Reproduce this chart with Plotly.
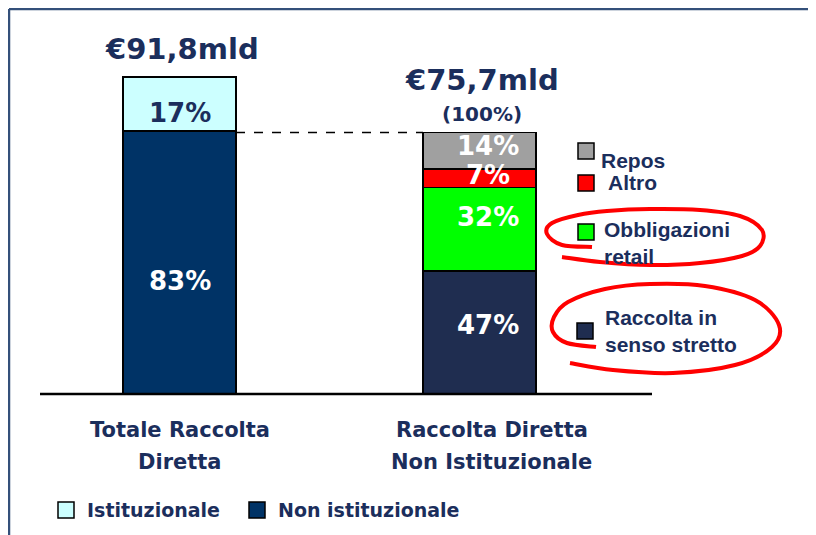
import plotly.graph_objects as go

W, H = 816, 535          # reference canvas
OFF = 8                  # page margin of the browser body
FW, FH = W - OFF, H - OFF

# ---------------- data ----------------
category_lines = [["Totale Raccolta", "Diretta"], ["Raccolta Diretta", "Non Istituzionale"]]
totals_mld = [91.8, 75.7]
total_labels = ["€91,8mld", "€75,7mld"]
total_sublabel = "(100%)"

bar1_series = ["Non istituzionale", "Istituzionale"]
bar1_pct = [83, 17]

bar2_series = ["Raccolta in senso stretto", "Obbligazioni retail", "Altro", "Repos"]
bar2_pct = [47, 32, 7, 14]
bar2_legend_text = ["Raccolta in<br>senso stretto", "Obbligazioni<br>retail", "Altro", "Repos"]

bottom_legend = ["Istituzionale", "Non istituzionale"]

# ---------------- style ----------------
NAVY_TXT = "#1b2e5c"
COL1 = {"Non istituzionale": "#003366", "Istituzionale": "#ccffff"}
COL2 = {"Repos": "#a0a0a0", "Altro": "#ff0000",
        "Obbligazioni retail": "#00ff00", "Raccolta in senso stretto": "#1f2d50"}
TXT1 = {"Non istituzionale": "white", "Istituzionale": NAVY_TXT}
LBL1_YSHIFT = {"Non istituzionale": -19, "Istituzionale": -9}
LBL2_YSHIFT = {"Raccolta in senso stretto": 8, "Obbligazioni retail": 12, "Altro": 3, "Repos": 5}
VERD = "DejaVu Sans"
ARIAL = "Liberation Sans"

BASE_PX, TOP1_PX = 394, 77
C0_PX, C1_PX = 179.5, 479.5
k = (BASE_PX - TOP1_PX) / totals_mld[0]
unit_x = C1_PX - C0_PX
bar_w = 113 / unit_x


def pxx(x):
    return (x - OFF) / FW


def pxy(y):
    return 1 - (y - OFF) / FH


fig = go.Figure()

# bar 1
for name, pct in zip(bar1_series, bar1_pct):
    fig.add_trace(go.Bar(x=[0], y=[totals_mld[0] * pct / 100], name=name, width=bar_w,
                         marker=dict(color=COL1[name], line=dict(color="black", width=1.5)),
                         hoverinfo="name+y"))
# bar 2
for name, pct in zip(bar2_series, bar2_pct):
    fig.add_trace(go.Bar(x=[1], y=[totals_mld[1] * pct / 100], name=name, width=bar_w,
                         marker=dict(color=COL2[name], line=dict(color="black", width=1.5)),
                         hoverinfo="name+y"))

ann = []
shapes = []

# segment labels
cum = 0
for name, pct in zip(bar1_series, bar1_pct):
    v = totals_mld[0] * pct / 100
    ann.append(dict(x=0, y=cum + v / 2, xref="x", yref="y", text=f"{pct}%", showarrow=False,
                    yshift=LBL1_YSHIFT[name],
                    font=dict(family=VERD, size=26, color=TXT1[name], weight="bold")))
    cum += v
cum = 0
for name, pct in zip(bar2_series, bar2_pct):
    v = totals_mld[1] * pct / 100
    ann.append(dict(x=1, y=cum + v / 2, xref="x", yref="y", text=f"{pct}%", showarrow=False,
                    xshift=8, yshift=LBL2_YSHIFT[name],
                    font=dict(family=VERD, size=26, color="white", weight="bold")))
    cum += v

# totals
ann.append(dict(x=0, y=totals_mld[0], xref="x", yref="y", text=total_labels[0], showarrow=False,
                yanchor="middle", yshift=28, xshift=2,
                font=dict(family=VERD, size=29, color=NAVY_TXT, weight="bold")))
ann.append(dict(x=1, y=totals_mld[1], xref="x", yref="y", text=total_labels[1], showarrow=False,
                yanchor="middle", yshift=53, xshift=2,
                font=dict(family=VERD, size=29, color=NAVY_TXT, weight="bold")))
ann.append(dict(x=1, y=totals_mld[1], xref="x", yref="y", text=total_sublabel, showarrow=False,
                yanchor="middle", yshift=19, xshift=2,
                font=dict(family=VERD, size=20, color=NAVY_TXT, weight="bold")))

# category labels
cat_xshift = [0, 12]
line_y_px = [430, 462]
for i, lines in enumerate(category_lines):
    for ln, ypx in zip(lines, line_y_px):
        ann.append(dict(x=i, y=pxy(ypx), xref="x", yref="paper", text=ln, showarrow=False,
                        xshift=cat_xshift[i], yanchor="middle",
                        font=dict(family=VERD, size=21, color=NAVY_TXT, weight="bold")))

# right legend
sq_pos = {"Repos": (578, 143), "Altro": (578, 175), "Obbligazioni retail": (578, 224),
          "Raccolta in senso stretto": (577, 323)}
txt_pos = {"Repos": (599, 160), "Altro": (606, 183), "Obbligazioni retail": (602, 243),
           "Raccolta in senso stretto": (603, 331)}
for name, txt in zip(bar2_series, bar2_legend_text):
    sx, sy = sq_pos[name]
    shapes.append(dict(type="rect", xref="paper", yref="paper", x0=pxx(sx), x1=pxx(sx + 16),
                       y0=pxy(sy), y1=pxy(sy + 16), fillcolor=COL2[name],
                       line=dict(color="black", width=1.5)))
    tx, ty = txt_pos[name]
    ann.append(dict(x=pxx(tx), y=pxy(ty), xref="paper", yref="paper", text=txt, showarrow=False,
                    xanchor="left", yanchor="middle", align="left",
                    font=dict(family=ARIAL, size=21, color=NAVY_TXT, weight="bold")))

# bottom legend
bl_sq = [58, 249]
bl_tx = [85, 276]
for name, sx, tx in zip(bottom_legend, bl_sq, bl_tx):
    shapes.append(dict(type="rect", xref="paper", yref="paper", x0=pxx(sx), x1=pxx(sx + 16),
                       y0=pxy(502), y1=pxy(518), fillcolor=COL1[name],
                       line=dict(color="black", width=1.5)))
    ann.append(dict(x=pxx(tx), y=pxy(510), xref="paper", yref="paper", text=name, showarrow=False,
                    xanchor="left", yanchor="middle",
                    font=dict(family=VERD, size=19, color=NAVY_TXT, weight="bold")))

# baseline
shapes.append(dict(type="line", xref="paper", yref="y", x0=pxx(40), x1=pxx(652), y0=0, y1=0,
                   line=dict(color="black", width=2.5)))
# dashed connector
shapes.append(dict(type="line", xref="x", yref="y", x0=bar_w / 2, x1=1 - bar_w / 2,
                   y0=totals_mld[1], y1=totals_mld[1],
                   line=dict(color="black", width=1.5, dash="dash")))
# frame
shapes.append(dict(type="line", xref="paper", yref="paper", x0=pxx(9), x1=pxx(W), y0=pxy(9), y1=pxy(9),
                   line=dict(color="#34507a", width=2.5)))
shapes.append(dict(type="line", xref="paper", yref="paper", x0=pxx(9), x1=pxx(9), y0=pxy(9), y1=pxy(H),
                   line=dict(color="#34507a", width=2.5)))


def smooth_path(pts):
    p = [(pxx(x), pxy(y)) for x, y in pts]
    d = f"M{p[0][0]:.5f},{p[0][1]:.5f}"
    n = len(p)
    for i in range(n - 1):
        p0 = p[i - 1] if i > 0 else p[i]
        p1, p2 = p[i], p[i + 1]
        p3 = p[i + 2] if i + 2 < n else p[i + 1]
        c1 = (p1[0] + (p2[0] - p0[0]) / 6, p1[1] + (p2[1] - p0[1]) / 6)
        c2 = (p2[0] - (p3[0] - p1[0]) / 6, p2[1] - (p3[1] - p1[1]) / 6)
        d += f" C{c1[0]:.5f},{c1[1]:.5f} {c2[0]:.5f},{c2[1]:.5f} {p2[0]:.5f},{p2[1]:.5f}"
    return d


ell1 = [(592, 247), (562, 245), (547, 234), (552, 223), (578, 215), (607, 211), (650, 209),
        (700, 210), (740, 216), (762, 230), (760, 246), (742, 256), (700, 263), (650, 265),
        (600, 262), (562, 257)]
ell2 = [(596, 347), (567, 343), (553, 332), (554, 317), (568, 302), (605, 289), (650, 284),
        (705, 286), (755, 300), (779, 325), (772, 347), (735, 365), (673, 373), (613, 370),
        (570, 363)]
for e in (ell1, ell2):
    shapes.append(dict(type="path", xref="paper", yref="paper", path=smooth_path(e),
                       line=dict(color="#ff0000", width=4)))

fig.update_layout(
    width=FW, height=FH, margin=dict(l=0, r=0, t=0, b=0),
    barmode="stack", showlegend=False,
    plot_bgcolor="white", paper_bgcolor="white",
    xaxis=dict(visible=False, range=[-(C0_PX - OFF) / unit_x, (W - C0_PX) / unit_x], fixedrange=True),
    yaxis=dict(visible=False, range=[-(H - BASE_PX) / k, (BASE_PX - OFF) / k], fixedrange=True),
    annotations=ann, shapes=shapes,
)

fig.write_html("out.html")
